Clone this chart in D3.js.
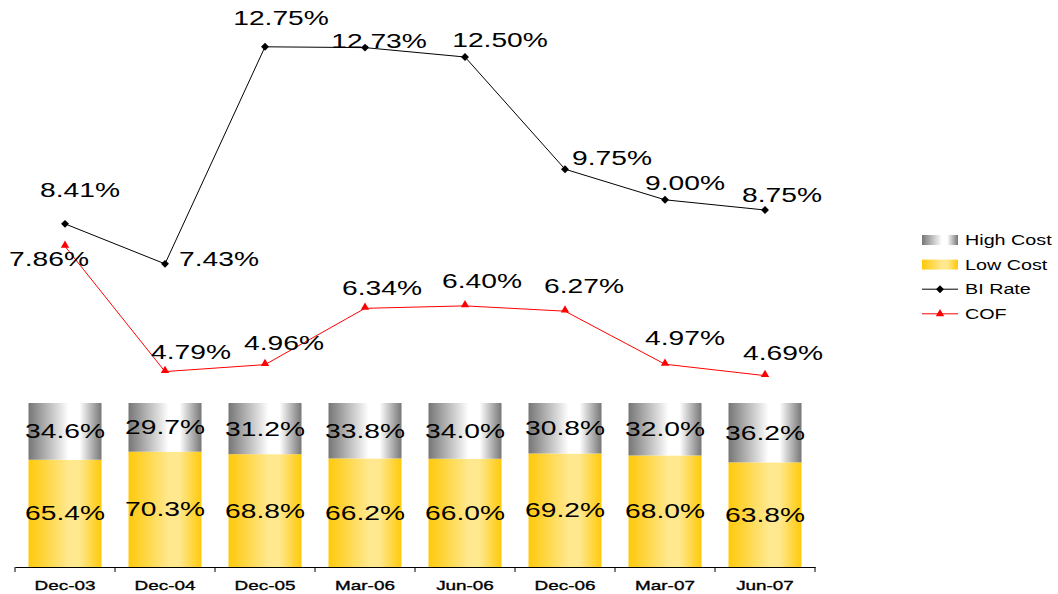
<!DOCTYPE html>
<html>
<head>
<meta charset="utf-8">
<script src="https://cdn.jsdelivr.net/npm/d3@7/dist/d3.min.js"></script>
<style>
  html, body { margin: 0; padding: 0; background: #fff; }
  svg { display: block; font-family: "Liberation Sans", Arial, sans-serif; }
</style>
</head>
<body>
<svg id="chart" width="1058" height="594"></svg>
<script>
// chart data
const categories = ['Dec-03', 'Dec-04', 'Dec-05', 'Mar-06', 'Jun-06', 'Dec-06', 'Mar-07', 'Jun-07'];
const lowCost = [65.4, 70.3, 68.8, 66.2, 66.0, 69.2, 68.0, 63.8];
const highCost = [34.6, 29.7, 31.2, 33.8, 34.0, 30.8, 32.0, 36.2];
const biRate = [8.41, 7.43, 12.75, 12.73, 12.50, 9.75, 9.00, 8.75];
const cof = [7.86, 4.79, 4.96, 6.34, 6.40, 6.27, 4.97, 4.69];

// where each line label sits relative to its point (dx, dy of baseline)
const biLabelOffset = [[15, -27], [54, 2], [16, -22], [14, 0], [35, -10], [47, -4], [20, -10], [17, -8]];
const cofLabelOffset = [[-16, 20], [26, -13], [19, -15], [17, -13], [17, -18], [19, -18], [20, -19], [18, -16]];

const SX = 1.41; // the reference text is stretched horizontally

const svg = d3.select('#chart');
const defs = svg.append('defs');

function addGradient(id, edge, mid) {
  const g = defs.append('linearGradient').attr('id', id)
    .attr('x1', '0%').attr('x2', '100%').attr('y1', '0%').attr('y2', '0%');
  g.append('stop').attr('offset', '0%').attr('stop-color', edge);
  g.append('stop').attr('offset', '55%').attr('stop-color', mid);
  g.append('stop').attr('offset', '70%').attr('stop-color', mid);
  g.append('stop').attr('offset', '100%').attr('stop-color', edge);
}
addGradient('gradHigh', '#767676', '#ffffff');
addGradient('gradLow', '#ffc90a', '#ffe88e');

const x = d3.scaleBand().domain(categories).range([15, 815])
  .paddingInner(0.27).paddingOuter(0.135);
const yBar = d3.scaleLinear().domain([0, 100]).range([567, 403]);
const yRate = d3.scaleLinear().domain([0, 14]).range([567, 567 - 40.8 * 14]);
const cx = (c) => x(c) + x.bandwidth() / 2;

function label(parent, px, py, str, size, opts = {}) {
  parent.append('g')
    .attr('transform', `translate(${px},${py})`)
    .append('text')
    .attr('transform', `scale(${SX},1)`)
    .attr('text-anchor', opts.anchor || 'middle')
    .attr('font-size', size)
    .attr('font-weight', opts.weight || 'normal')
    .attr('fill', '#000')
    .text(str);
}

// stacked bars
const barsG = svg.append('g');
const stacked = categories.map((c, i) => ({ c, low: lowCost[i], high: highCost[i] }));

barsG.selectAll('.low').data(stacked).enter().append('rect')
  .attr('class', 'low')
  .attr('x', (d) => x(d.c))
  .attr('width', x.bandwidth())
  .attr('y', (d) => yBar(d.low))
  .attr('height', (d) => yBar(0) - yBar(d.low))
  .attr('fill', 'url(#gradLow)');

barsG.selectAll('.high').data(stacked).enter().append('rect')
  .attr('class', 'high')
  .attr('x', (d) => x(d.c))
  .attr('width', x.bandwidth())
  .attr('y', (d) => yBar(d.low + d.high))
  .attr('height', (d) => yBar(d.low) - yBar(d.low + d.high))
  .attr('fill', 'url(#gradHigh)');

stacked.forEach((d) => {
  label(barsG, cx(d.c), (yBar(0) + yBar(d.low)) / 2 + 7, d.low.toFixed(1) + '%', 20);
  label(barsG, cx(d.c), (yBar(d.low) + yBar(d.low + d.high)) / 2 + 7, d.high.toFixed(1) + '%', 20);
});

// category axis
const axisG = svg.append('g').attr('transform', `translate(0,${yBar(0)})`);
axisG.call(d3.axisBottom(x).tickSize(0).tickPadding(13));
axisG.select('.domain').attr('stroke', '#000').attr('stroke-width', 1);
axisG.selectAll('.tick text')
  .attr('font-family', '"Liberation Sans", Arial, sans-serif')
  .attr('font-size', 13.5)
  .attr('font-weight', 'normal')
  .attr('fill', '#000')
  .attr('stroke', '#000')
  .attr('stroke-width', 0.35)
  .attr('transform', `scale(1.4,1)`);
const edges = categories.map((c) => x(c) - x.step() * x.paddingInner() / 2)
  .concat([x(categories[categories.length - 1]) + x.bandwidth() + x.step() * x.paddingInner() / 2]);
axisG.selectAll('.edge').data(edges).enter().append('line')
  .attr('class', 'edge')
  .attr('x1', (d) => d).attr('x2', (d) => d)
  .attr('y1', 0).attr('y2', 5)
  .attr('stroke', '#000');

// lines
const line = d3.line().x((d) => cx(d.c)).y((d) => yRate(d.v));
const biData = categories.map((c, i) => ({ c, v: biRate[i] }));
const cofData = categories.map((c, i) => ({ c, v: cof[i] }));

const linesG = svg.append('g');
linesG.append('path').datum(biData).attr('d', line)
  .attr('fill', 'none').attr('stroke', '#000').attr('stroke-width', 1);
linesG.append('path').datum(cofData).attr('d', line)
  .attr('fill', 'none').attr('stroke', '#ff0000').attr('stroke-width', 1);

const diamond = d3.symbol().type(d3.symbolDiamond2).size(40);
const triangle = d3.symbol().type(d3.symbolTriangle2).size(50);

linesG.selectAll('.bi').data(biData).enter().append('path')
  .attr('class', 'bi')
  .attr('d', diamond)
  .attr('transform', (d) => `translate(${cx(d.c)},${yRate(d.v)})`)
  .attr('fill', '#000');
linesG.selectAll('.cof').data(cofData).enter().append('path')
  .attr('class', 'cof')
  .attr('d', triangle)
  .attr('transform', (d) => `translate(${cx(d.c)},${yRate(d.v) - 1})`)
  .attr('fill', '#ff0000');

biData.forEach((d, i) => {
  label(linesG, cx(d.c) + biLabelOffset[i][0], yRate(d.v) + biLabelOffset[i][1], d.v.toFixed(2) + '%', 20);
});
cofData.forEach((d, i) => {
  label(linesG, cx(d.c) + cofLabelOffset[i][0], yRate(d.v) + cofLabelOffset[i][1], d.v.toFixed(2) + '%', 20);
});

// legend
const legend = svg.append('g').attr('transform', 'translate(922,240)');
const legendItems = [
  { name: 'High Cost', kind: 'rect', fill: 'url(#gradHigh)' },
  { name: 'Low Cost', kind: 'rect', fill: 'url(#gradLow)' },
  { name: 'BI Rate', kind: 'line', color: '#000', symbol: diamond },
  { name: 'COF', kind: 'line', color: '#ff0000', symbol: triangle }
];
legendItems.forEach((item, i) => {
  const row = legend.append('g').attr('transform', `translate(0,${i * 24.6})`);
  if (item.kind === 'rect') {
    row.append('rect').attr('x', 0).attr('y', -5).attr('width', 36).attr('height', 10)
      .attr('fill', item.fill);
  } else {
    row.append('line').attr('x1', 0).attr('x2', 36).attr('y1', 0).attr('y2', 0)
      .attr('stroke', item.color);
    row.append('path').attr('d', item.symbol).attr('transform', 'translate(18,0)')
      .attr('fill', item.color);
  }
  label(row, 43, 5, item.name, 14, { anchor: 'start' });
});
</script>
</body>
</html>
